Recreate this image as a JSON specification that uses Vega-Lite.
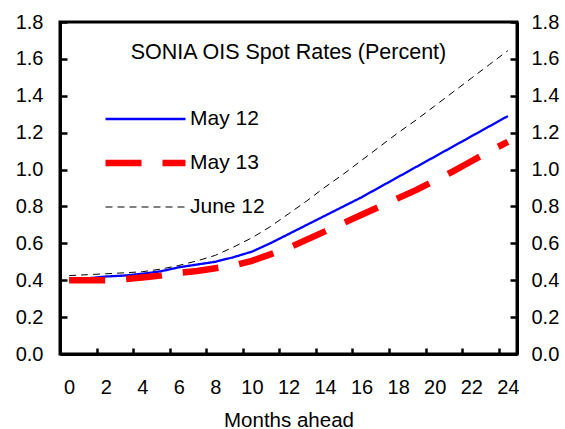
{
  "$schema": "https://vega.github.io/schema/vega-lite/v6.json",
  "width": 457,
  "height": 332,
  "autosize": "none",
  "padding": {"left": 60, "top": 22, "right": 48, "bottom": 75},
  "background": "white",
  "config": {
    "font": "Liberation Sans",
    "view": {"stroke": "black", "strokeWidth": 3},
    "axis": {"labelFont": "Liberation Sans", "labelFontSize": 20, "labelColor": "black", "labelOverlap": false, "titleFont": "Liberation Sans", "titleFontSize": 20.5, "titleFontWeight": "normal", "titleColor": "black", "domainColor": "black", "domainWidth": 3, "tickColor": "black", "tickWidth": 2.5, "grid": false}
  },
  "title": {"text": "SONIA OIS Spot Rates (Percent)", "fontSize": 21.5, "fontWeight": "normal", "font": "Liberation Sans", "color": "black", "anchor": "middle", "frame": "group", "offset": -51},
  "data": {"values": [
    {"m": 0, "s": "May 12", "v": 0.40}, {"m": 1, "s": "May 12", "v": 0.41}, {"m": 2, "s": "May 12", "v": 0.42}, {"m": 3, "s": "May 12", "v": 0.425}, {"m": 4, "s": "May 12", "v": 0.435}, {"m": 5, "s": "May 12", "v": 0.448}, {"m": 6, "s": "May 12", "v": 0.47}, {"m": 7, "s": "May 12", "v": 0.485}, {"m": 8, "s": "May 12", "v": 0.50}, {"m": 9, "s": "May 12", "v": 0.525}, {"m": 10, "s": "May 12", "v": 0.555}, {"m": 11, "s": "May 12", "v": 0.60}, {"m": 12, "s": "May 12", "v": 0.65}, {"m": 13, "s": "May 12", "v": 0.70}, {"m": 14, "s": "May 12", "v": 0.75}, {"m": 15, "s": "May 12", "v": 0.80}, {"m": 16, "s": "May 12", "v": 0.85}, {"m": 17, "s": "May 12", "v": 0.905}, {"m": 18, "s": "May 12", "v": 0.96}, {"m": 19, "s": "May 12", "v": 1.015}, {"m": 20, "s": "May 12", "v": 1.07}, {"m": 21, "s": "May 12", "v": 1.125}, {"m": 22, "s": "May 12", "v": 1.18}, {"m": 23, "s": "May 12", "v": 1.235}, {"m": 24, "s": "May 12", "v": 1.29},
    {"m": 0, "s": "May 13", "v": 0.40}, {"m": 1, "s": "May 13", "v": 0.40}, {"m": 2, "s": "May 13", "v": 0.40}, {"m": 3, "s": "May 13", "v": 0.405}, {"m": 4, "s": "May 13", "v": 0.415}, {"m": 5, "s": "May 13", "v": 0.425}, {"m": 6, "s": "May 13", "v": 0.44}, {"m": 7, "s": "May 13", "v": 0.45}, {"m": 8, "s": "May 13", "v": 0.465}, {"m": 9, "s": "May 13", "v": 0.48}, {"m": 10, "s": "May 13", "v": 0.505}, {"m": 11, "s": "May 13", "v": 0.54}, {"m": 12, "s": "May 13", "v": 0.575}, {"m": 13, "s": "May 13", "v": 0.62}, {"m": 14, "s": "May 13", "v": 0.665}, {"m": 15, "s": "May 13", "v": 0.71}, {"m": 16, "s": "May 13", "v": 0.755}, {"m": 17, "s": "May 13", "v": 0.80}, {"m": 18, "s": "May 13", "v": 0.845}, {"m": 19, "s": "May 13", "v": 0.89}, {"m": 20, "s": "May 13", "v": 0.94}, {"m": 21, "s": "May 13", "v": 0.99}, {"m": 22, "s": "May 13", "v": 1.045}, {"m": 23, "s": "May 13", "v": 1.10}, {"m": 24, "s": "May 13", "v": 1.15},
    {"m": 0, "s": "June 12", "v": 0.425}, {"m": 1, "s": "June 12", "v": 0.43}, {"m": 2, "s": "June 12", "v": 0.435}, {"m": 3, "s": "June 12", "v": 0.44}, {"m": 4, "s": "June 12", "v": 0.446}, {"m": 5, "s": "June 12", "v": 0.46}, {"m": 6, "s": "June 12", "v": 0.48}, {"m": 7, "s": "June 12", "v": 0.505}, {"m": 8, "s": "June 12", "v": 0.535}, {"m": 9, "s": "June 12", "v": 0.58}, {"m": 10, "s": "June 12", "v": 0.63}, {"m": 11, "s": "June 12", "v": 0.69}, {"m": 12, "s": "June 12", "v": 0.76}, {"m": 13, "s": "June 12", "v": 0.83}, {"m": 14, "s": "June 12", "v": 0.905}, {"m": 15, "s": "June 12", "v": 0.975}, {"m": 16, "s": "June 12", "v": 1.05}, {"m": 17, "s": "June 12", "v": 1.125}, {"m": 18, "s": "June 12", "v": 1.20}, {"m": 19, "s": "June 12", "v": 1.27}, {"m": 20, "s": "June 12", "v": 1.345}, {"m": 21, "s": "June 12", "v": 1.42}, {"m": 22, "s": "June 12", "v": 1.495}, {"m": 23, "s": "June 12", "v": 1.57}, {"m": 24, "s": "June 12", "v": 1.645}
  ]},
  "encoding": {
    "x": {"field": "m", "type": "quantitative", "scale": {"domain": [-0.5, 24.5], "nice": false, "zero": false},
      "axis": {"values": [0, 2, 4, 6, 8, 10, 12, 14, 16, 18, 20, 22, 24], "labelOverlap": false, "labelFontSize": 20, "tickSize": -6, "tickOffset": -9.14, "labelOffset": 9.14, "labelPadding": 29, "title": "Months ahead", "titleFontSize": 20.5, "titlePadding": 13}}
  },
  "resolve": {"axis": {"y": "independent"}},
  "layer": [
    {
      "mark": {"type": "line", "clip": true},
      "encoding": {
        "y": {"field": "v", "type": "quantitative", "scale": {"domain": [0, 1.8], "nice": false},
          "axis": {"values": [0, 0.2, 0.4, 0.6, 0.8, 1.0, 1.2, 1.4, 1.6, 1.8], "format": ".1f", "labelFontSize": 20, "labelOverlap": false, "tickSize": -7, "labelPadding": 24, "title": null, "orient": "left"}},
        "color": {"field": "s", "type": "nominal", "sort": ["May 12", "May 13", "June 12"], "scale": {"domain": ["May 12", "May 13", "June 12"], "range": ["#0000ff", "#ff0000", "#000000"]},
          "legend": {"title": null, "orient": "none", "legendX": 42, "legendY": 85, "symbolType": "stroke", "symbolSize": 6400, "clipHeight": 24, "labelFontSize": 21, "labelFont": "Liberation Sans", "labelColor": "black", "labelOffset": 1, "rowPadding": 20}},
        "strokeDash": {"field": "s", "type": "nominal", "sort": ["May 12", "May 13", "June 12"], "scale": {"domain": ["May 12", "May 13", "June 12"], "range": [[1, 0], [36, 21], [7, 5]]}},
        "strokeWidth": {"field": "s", "type": "nominal", "sort": ["May 12", "May 13", "June 12"], "scale": {"type": "ordinal", "domain": ["May 12", "May 13", "June 12"], "range": [2.3, 6.5, 1]}}
      }
    },
    {
      "mark": {"type": "line", "opacity": 0},
      "encoding": {
        "y": {"field": "v", "type": "quantitative",
          "axis": {"values": [0, 0.2, 0.4, 0.6, 0.8, 1.0, 1.2, 1.4, 1.6, 1.8], "format": ".1f", "labelFontSize": 20, "labelOverlap": false, "tickSize": -7, "labelPadding": 21, "title": null, "orient": "right"}},
        "detail": {"field": "s"}
      }
    }
  ]
}
